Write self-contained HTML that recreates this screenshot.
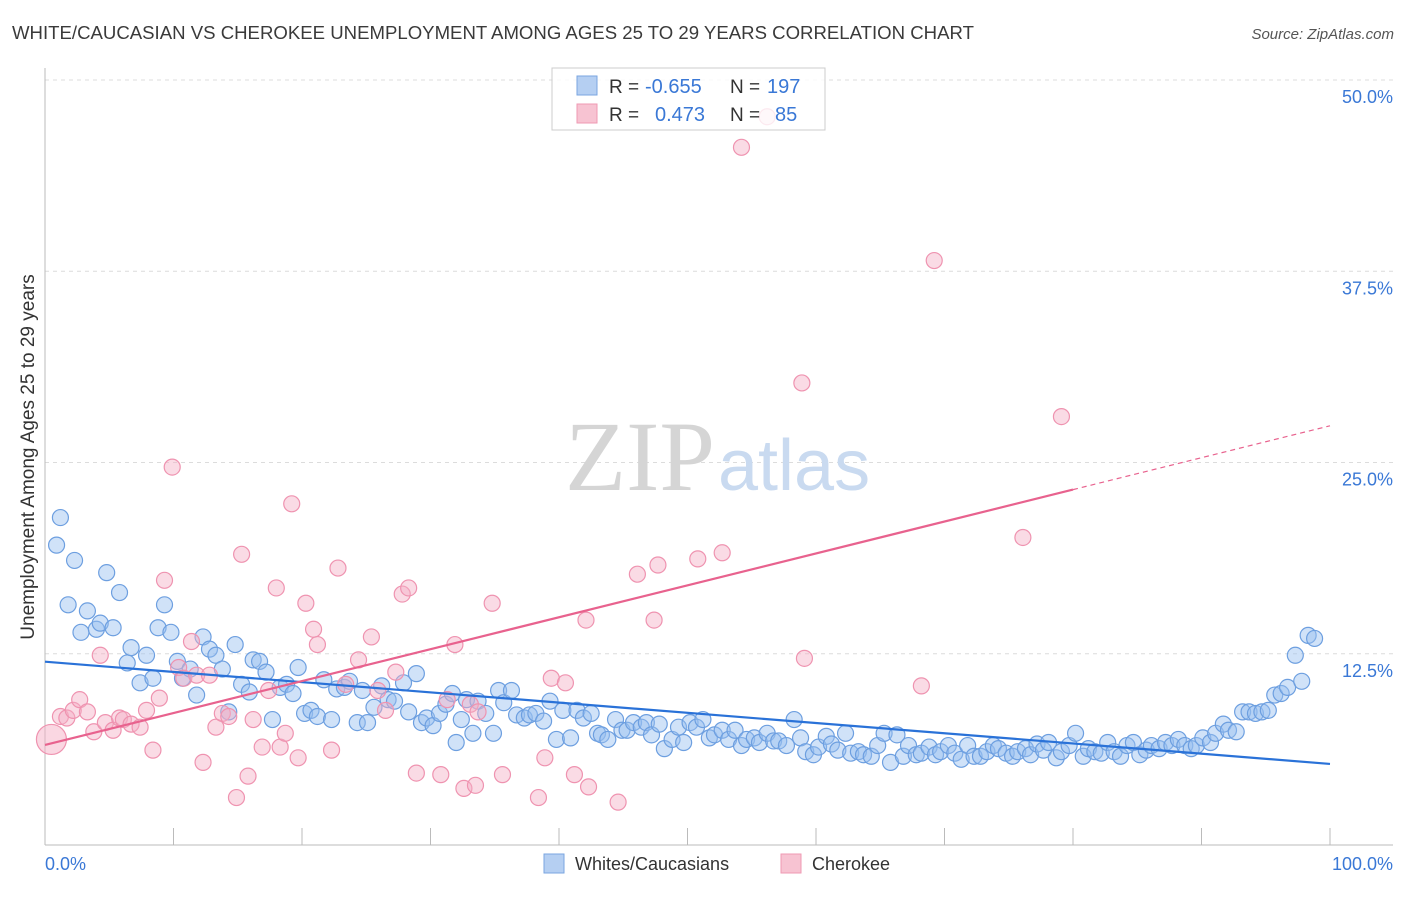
<!DOCTYPE html>
<html><head><meta charset="utf-8"><style>
body{margin:0;background:#fff;font-family:"Liberation Sans",sans-serif;}
svg text{font-family:"Liberation Sans",sans-serif;}
</style></head><body>
<svg id="chart" width="1406" height="892" viewBox="0 0 1406 892" xmlns="http://www.w3.org/2000/svg">
<text x="12" y="39" font-size="18.6" fill="#3a3a3a">WHITE/CAUCASIAN VS CHEROKEE UNEMPLOYMENT AMONG AGES 25 TO 29 YEARS CORRELATION CHART</text>
<text x="1394" y="39" font-size="15" fill="#555" font-style="italic" text-anchor="end">Source: ZipAtlas.com</text>
<g id="grid"></g>
<text x="715" y="490" font-size="100" text-anchor="end" fill="#d5d5d5" style="font-family:'Liberation Serif',serif">ZIP</text>
<text x="718" y="490" font-size="72" fill="#c9daf0">atlas</text>
<text transform="translate(34,457) rotate(-90)" font-size="19" fill="#333" text-anchor="middle">Unemployment Among Ages 25 to 29 years</text>
<g id="marks"></g>
<g>
<rect x="552" y="68" width="273" height="62" fill="#fff" fill-opacity="0.8" stroke="#ccc"/>
<rect x="577" y="76" width="20" height="19" fill="#b5cff2" stroke="#7aa6e0"/>
<rect x="577" y="104" width="20" height="19" fill="#f7c3d2" stroke="#ef9ab3"/>
<text x="609" y="93" font-size="19" fill="#333">R =</text>
<text x="645" y="93" font-size="20" fill="#3a78d6">-0.655</text>
<text x="730" y="93" font-size="19" fill="#333">N =</text>
<text x="767" y="93" font-size="20" fill="#3a78d6">197</text>
<text x="609" y="121" font-size="19" fill="#333">R =</text>
<text x="655" y="121" font-size="20" fill="#3a78d6">0.473</text>
<text x="730" y="121" font-size="19" fill="#333">N =</text>
<text x="775" y="121" font-size="20" fill="#3a78d6">85</text>
</g>
<g>
<rect x="544" y="854" width="20" height="19" fill="#b5cff2" stroke="#7aa6e0"/>
<text x="575" y="870" font-size="18" fill="#333">Whites/Caucasians</text>
<rect x="781" y="854" width="20" height="19" fill="#f7c3d2" stroke="#ef9ab3"/>
<text x="812" y="870" font-size="18" fill="#333">Cherokee</text>
</g>
</svg>
<script>
const xTickLabels=["0.0%","100.0%"];
const yTicks=[12.5,25,37.5,50];
const yTickLabels=["12.5%","25.0%","37.5%","50.0%"];
const blueX=[1.2,0.9,2.3,1.8,3.3,2.8,4.0,4.3,5.3,4.8,5.8,6.4,6.7,7.4,7.9,8.4,8.8,9.3,9.8,10.3,10.7,11.3,11.8,12.3,12.8,13.3,13.8,14.3,14.8,15.3,15.9,16.2,16.7,17.2,17.7,18.3,18.8,19.3,19.7,20.2,20.7,21.2,21.7,22.3,22.7,23.3,23.7,24.3,24.7,25.1,25.6,26.2,26.7,27.2,27.9,28.3,28.9,29.3,29.7,30.2,30.7,31.2,31.7,32.0,32.4,32.8,33.3,33.7,34.3,34.9,35.3,35.7,36.3,36.7,37.3,37.7,38.2,38.8,39.3,39.8,40.3,40.9,41.4,41.9,42.5,43.0,43.3,43.8,44.4,44.9,45.3,45.8,46.4,46.8,47.2,47.8,48.2,48.8,49.3,49.7,50.2,50.7,51.2,51.7,52.1,52.7,53.2,53.7,54.2,54.6,55.2,55.6,56.2,56.7,57.1,57.7,58.3,58.8,59.2,59.8,60.2,60.8,61.2,61.7,62.3,62.7,63.3,63.7,64.3,64.8,65.3,65.8,66.3,66.8,67.2,67.8,68.2,68.8,69.3,69.7,70.3,70.8,71.3,71.8,72.3,72.8,73.3,73.8,74.2,74.8,75.3,75.7,76.3,76.7,77.2,77.7,78.1,78.7,79.1,79.7,80.2,80.8,81.2,81.7,82.2,82.7,83.2,83.7,84.2,84.7,85.2,85.7,86.1,86.7,87.2,87.7,88.2,88.7,89.2,89.6,90.1,90.7,91.1,91.7,92.1,92.7,93.2,93.7,94.2,94.7,95.2,95.7,96.2,96.7,97.3,97.8,98.3,98.8];
const blueY=[21.4,19.6,18.6,15.7,15.3,13.9,14.1,14.5,14.2,17.8,16.5,11.9,12.9,10.6,12.4,10.9,14.2,15.7,13.9,12.0,10.9,11.5,9.8,13.6,12.8,12.4,11.5,8.7,13.1,10.5,10.0,12.1,12.0,11.3,8.2,10.3,10.5,9.9,11.6,8.6,8.8,8.4,10.8,8.2,10.2,10.3,10.7,8.0,10.1,8.0,9.0,10.4,9.5,9.4,10.6,8.7,11.2,8.0,8.3,7.8,8.6,9.2,9.9,6.7,8.2,9.5,7.3,9.4,8.6,7.3,10.1,9.3,10.1,8.5,8.3,8.5,8.6,8.1,9.4,6.9,8.8,7.0,8.8,8.3,8.6,7.3,7.2,6.9,8.2,7.5,7.5,8.0,7.7,8.0,7.2,7.9,6.3,6.9,7.7,6.7,8.0,7.7,8.2,7.0,7.2,7.5,6.9,7.5,6.5,6.9,7.0,6.7,7.3,6.8,6.8,6.5,8.2,7.0,6.1,5.9,6.4,7.1,6.6,6.2,7.3,6.0,6.1,5.9,5.8,6.5,7.3,5.4,7.2,5.8,6.5,5.9,6.0,6.4,5.9,6.1,6.5,6.0,5.6,6.5,5.8,5.8,6.1,6.5,6.3,6.0,5.8,6.1,6.3,5.9,6.6,6.2,6.7,5.7,6.1,6.5,7.3,5.8,6.3,6.1,6.0,6.7,6.1,5.8,6.5,6.7,5.9,6.2,6.5,6.3,6.7,6.5,6.9,6.5,6.3,6.5,7.0,6.7,7.3,7.9,7.5,7.4,8.7,8.7,8.6,8.7,8.8,9.8,9.9,10.3,12.4,10.7,13.7,13.5];
const pinkX=[1.2,1.7,2.2,2.7,3.3,3.8,4.3,4.7,5.3,5.8,6.1,6.7,7.4,7.9,8.4,8.9,9.3,9.9,10.4,10.8,11.4,11.8,12.3,12.8,13.3,13.8,14.3,14.9,15.3,15.8,16.2,16.9,17.4,18.0,18.3,18.7,19.2,19.7,20.3,20.9,21.2,22.3,22.8,23.4,24.4,25.4,25.9,26.5,27.3,27.8,28.3,28.9,30.8,31.3,31.9,32.6,33.1,33.5,33.7,34.8,35.6,38.4,38.9,39.4,40.5,41.2,42.1,42.3,44.6,46.1,47.4,47.7,50.8,52.7,54.2,56.2,58.9,59.1,68.2,69.2,76.1,79.1];
const pinkY=[8.4,8.3,8.8,9.5,8.7,7.4,12.4,8.0,7.5,8.3,8.2,7.9,7.7,8.8,6.2,9.6,17.3,24.7,11.6,10.9,13.3,11.1,5.4,11.1,7.7,8.6,8.4,3.1,19.0,4.5,8.2,6.4,10.1,16.8,6.4,7.3,22.3,5.7,15.8,14.1,13.1,6.2,18.1,10.5,12.1,13.6,10.1,8.8,11.3,16.4,16.8,4.7,4.6,9.5,13.1,3.7,9.2,3.9,8.7,15.8,4.6,3.1,5.7,10.9,10.6,4.6,14.7,3.8,2.8,17.7,14.7,18.3,18.7,19.1,45.6,47.6,30.2,12.2,10.4,38.2,20.1,28.0];
const bigPinkX=[0.5], bigPinkY=[6.9];
const blueTrend=[11.98,5.3];
const pinkTrend=[6.54,27.4];
const NS="http://www.w3.org/2000/svg";
const X0=45,X1=1330,Y0=845,YTOP=80,YMAX=50;
const sx=v=>X0+(X1-X0)*v/100;
const sy=v=>Y0-(Y0-YTOP)*v/YMAX;
function mk(tag,attrs,parent){const e=document.createElementNS(NS,tag);for(const k in attrs)e.setAttribute(k,attrs[k]);parent.appendChild(e);return e;}
const grid=document.getElementById('grid');
const marks=document.getElementById('marks');
yTicks.forEach((t,i)=>{
 const l=mk('line',{x1:X0,x2:1393,y1:sy(t),y2:sy(t),stroke:'#dcdcdc','stroke-dasharray':'4,4'},grid);
 
 
 const tx=mk('text',{x:1393,y:sy(t)+23,'font-size':18,fill:'#3a78d6','text-anchor':'end'},grid);
 tx.textContent=yTickLabels[i];
 
 
});
const ax=mk('line',{x1:X0,x2:1393,y1:Y0,y2:Y0,stroke:'#bbb'},grid);


const ay=mk('line',{x1:X0,x2:X0,y1:68,y2:Y0,stroke:'#bbb'},grid);


for(let i=0;i<=10;i++){
 const t=mk('line',{x1:sx(i*10),x2:sx(i*10),y1:Y0-17,y2:Y0,stroke:'#bbb'},grid);
 
 
}
[[0,'start',X0],[1,'end',1393]].forEach(([i,a,x])=>{
 const t=mk('text',{x:x,y:870,'font-size':18,fill:'#3a78d6','text-anchor':a},grid);
 t.textContent=xTickLabels[i];
 
 
});
blueX.forEach((x,i)=>{
 const c=mk('circle',{cx:sx(x),cy:sy(blueY[i]),r:8,fill:'rgba(150,190,240,0.45)',stroke:'#6d9fe0','stroke-width':1.2},marks);
 
 
});
pinkX.forEach((x,i)=>{
 const c=mk('circle',{cx:sx(x),cy:sy(pinkY[i]),r:8,fill:'rgba(245,175,198,0.45)',stroke:'#ef93b0','stroke-width':1.2},marks);
 
 
});
bigPinkX.forEach((x,i)=>{
 const c=mk('circle',{cx:sx(x),cy:sy(bigPinkY[i]),r:15,fill:'rgba(245,175,198,0.5)',stroke:'#ef93b0','stroke-width':1.2},marks);
 
 
});
const bl=mk('line',{x1:sx(0),y1:sy(blueTrend[0]),x2:sx(100),y2:sy(blueTrend[1]),stroke:'#2a72d8','stroke-width':2.2},marks);


const pm=pinkTrend[0]+(pinkTrend[1]-pinkTrend[0])*0.8;
const pl=mk('line',{x1:sx(0),y1:sy(pinkTrend[0]),x2:sx(80),y2:sy(pm),stroke:'#e8628e','stroke-width':2.2},marks);


const pd=mk('line',{x1:sx(80),y1:sy(pm),x2:sx(100),y2:sy(pinkTrend[1]),stroke:'#e8628e','stroke-width':1.2,'stroke-dasharray':'5,4'},marks);


</script>
</body></html>
